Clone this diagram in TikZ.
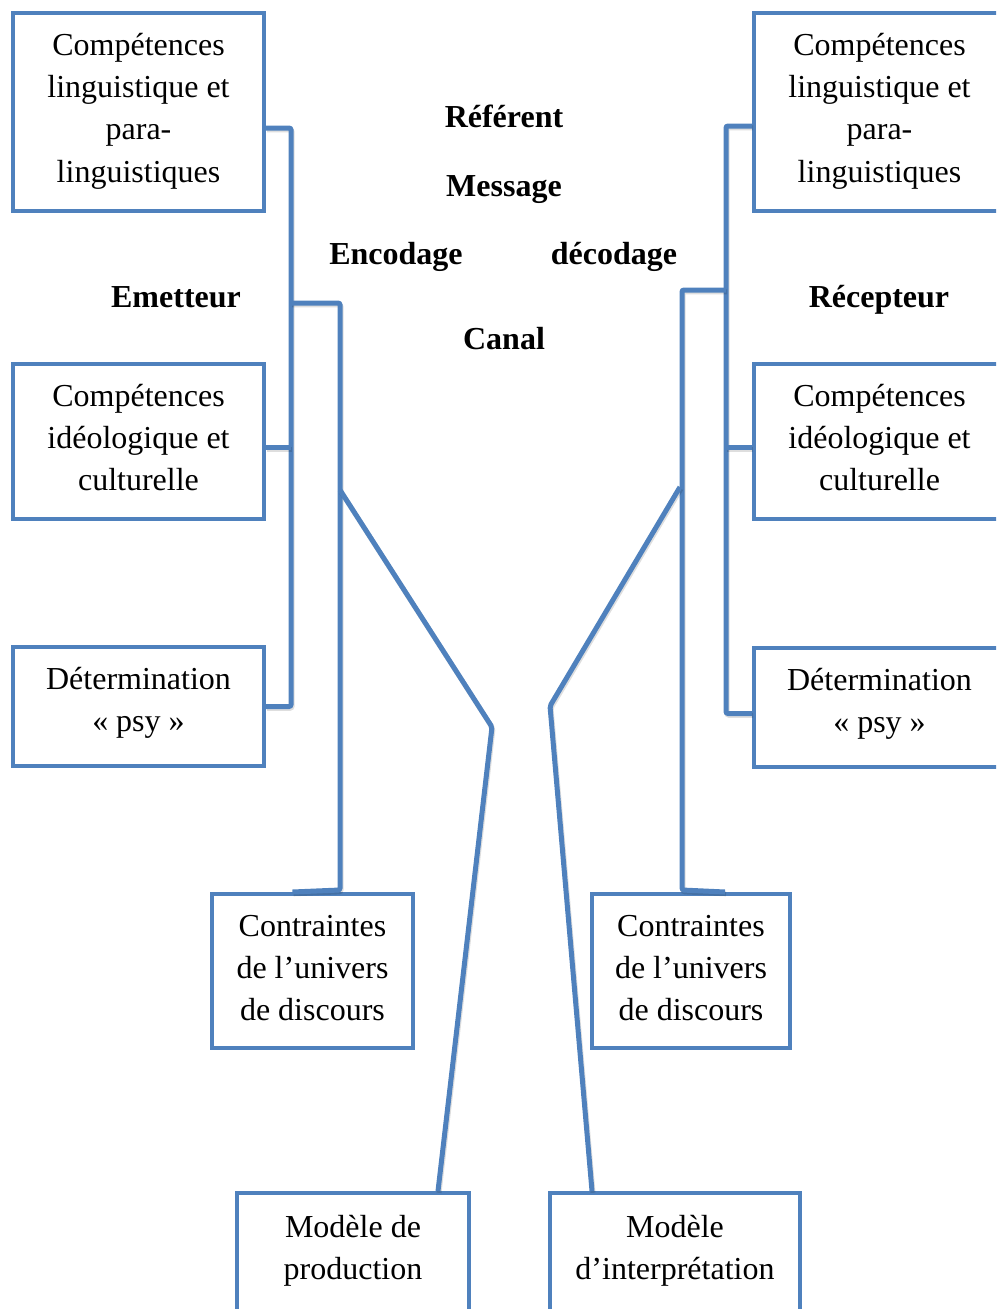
\documentclass[tikz,border=0pt]{standalone}
\usepackage{fontspec}
\setmainfont{Liberation Serif}
\definecolor{lineblue}{RGB}{79,129,189}
\tikzset{
  box/.style={draw=lineblue, line width=4pt, inner sep=0pt},
  txt/.style={align=center, inner sep=0pt, font=\fontsize{32}{42.3}\selectfont},
  link/.style={draw=lineblue, line width=5pt, rounded corners=2pt,
               preaction={draw=black, opacity=0.13, line width=5pt,
                          transform canvas={xshift=1pt,yshift=-1.8pt}}},
  tag/.style={font=\fontsize{32}{40}\selectfont\bfseries, inner sep=0pt}
}
\begin{document}
\begin{tikzpicture}[x=1pt,y=-1pt]
\useasboundingbox (0,0) rectangle (996,1309);
\clip (0,0) rectangle (996,1309);

% sender side frames
\node[box, minimum width=251, minimum height=198] (L1) at (138.5,112) {};
\node[box, minimum width=251, minimum height=155] (L2) at (138.5,441.5) {};
\node[box, minimum width=251, minimum height=119] (L3) at (138.5,706.5) {};
\node[box, minimum width=201, minimum height=154] (L4) at (312.5,971) {};
\node[box, minimum width=232, minimum height=140] (L5) at (353,1263) {};

% receiver side frames
\node[box, minimum width=251, minimum height=198] (R1) at (879.5,112) {};
\node[box, minimum width=251, minimum height=155] (R2) at (879.5,441.5) {};
\node[box, minimum width=251, minimum height=119] (R3) at (879.5,707.5) {};
\node[box, minimum width=198, minimum height=154] (R4) at (691,971) {};
\node[box, minimum width=250, minimum height=140] (R5) at (675,1263) {};

% texts inside the frames
\node[txt] (L1t) at (138.5,111) {Compétences\\linguistique et\\para-\\linguistiques};
\node[txt] (L2t) at (138.5,437.5) {Compétences\\idéologique et\\culturelle};
\node[txt] (L3t) at (138.5,703) {Détermination\\« psy »};
\node[txt] (L4t) at (312.5,968) {Contraintes\\de l’univers\\de discours};
\node[txt] (L5t) at (353,1251) {Modèle de\\production};
\node[txt] (R1t) at (879.5,111) {Compétences\\linguistique et\\para-\\linguistiques};
\node[txt] (R2t) at (879.5,437.5) {Compétences\\idéologique et\\culturelle};
\node[txt] (R3t) at (879.5,704) {Détermination\\« psy »};
\node[txt] (R4t) at (691,968) {Contraintes\\de l’univers\\de discours};
\node[txt] (R5t) at (675,1251) {Modèle\\d’interprétation};

% central labels
\node[tag] (ref) at (504,116) {Référent};
\node[tag] (msg) at (504,190) {Message};
\node[tag] (enc) at (396,257) {Encodage};
\node[tag] (dec) at (614,257) {décodage};
\node[tag] (emi) at (176,297) {Emetteur};
\node[tag] (rec) at (879,300) {Récepteur};
\node[tag] (can) at (504,339) {Canal};

% attachment points on the frames
\coordinate (aL1) at ([yshift=-16pt]L1.east);
\coordinate (aL2) at ([yshift=-6pt]L2.east);
\coordinate (aL3) at (L3.east);
\coordinate (aL4) at ([xshift=-20pt]L4.north);
\coordinate (aL5) at ([xshift=85pt]L5.north);
\coordinate (aR1) at ([yshift=-14pt]R1.west);
\coordinate (aR2) at ([yshift=-6pt]R2.west);
\coordinate (aR3) at ([yshift=-6pt]R3.west);
\coordinate (aR4) at ([xshift=34pt]R4.north);
\coordinate (aR5) at ([xshift=-83pt]R5.north);

% junction points of the connectors
\coordinate (sL) at (291,0);
\coordinate (jL) at (291,303);
\coordinate (bL) at (340,890);
\coordinate (kL) at (340,490);
\coordinate (nL) at (492,727);
\coordinate (sR) at (726,0);
\coordinate (jR) at (726,290);
\coordinate (bR) at (682,890);
\coordinate (kR) at (680,487);
\coordinate (nR) at (550,706);

% sender brackets
\draw[link] (aL1) -| (sL |- aL3) -- (aL3);
\draw[link] (aL2) -- (sL |- aL2);
\draw[link] (jL) -| (bL) -- (aL4);
\draw[link] (kL) -- (nL) -- (aL5);

% receiver brackets
\draw[link] (aR1) -| (sR |- aR3) -- (aR3);
\draw[link] (aR2) -- (sR |- aR2);
\draw[link] (jR) -| (bR) -- (aR4);
\draw[link] (kR) -- (nR) -- (aR5);
\end{tikzpicture}
\end{document}
